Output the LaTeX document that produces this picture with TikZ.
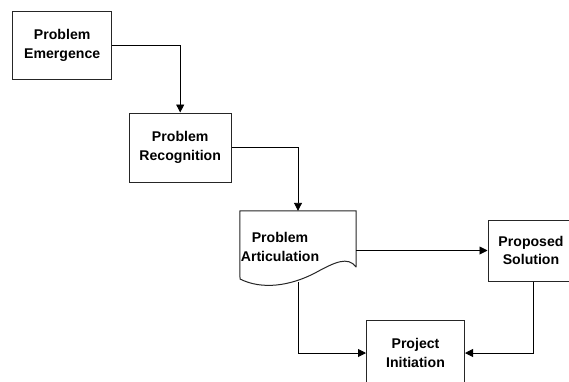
\documentclass[tikz,border=0pt]{standalone}
\usepackage{fontspec}
\setmainfont{Liberation Sans}
\usetikzlibrary{arrows.meta}

\tikzset{
  stagebox/.style={draw=black!85, line width=1pt, inner sep=0pt, align=center,
    font=\bfseries\fontsize{14.1}{18.5}\selectfont},
  stagetext/.style={inner sep=0pt, align=center,
    font=\bfseries\fontsize{14.1}{18.5}\selectfont},
  flow/.style={draw=black, line width=0.9pt, -{Triangle[length=8pt, width=8pt]}},
}

\begin{document}
\begin{tikzpicture}[x=1pt, y=-1pt]
  % canvas
  \path[fill=white, use as bounding box] (0,0) rectangle (569,381);

  % process stages
  \node[stagebox, minimum width=99.5pt, minimum height=67.5pt] (emerge) at (62.2,45.3)
    {Problem\\Emergence};
  \node[stagebox, minimum width=102pt, minimum height=69pt] (recog) at (180.2,147.5)
    {Problem\\Recognition};
  \node[stagebox, minimum width=86pt, minimum height=61pt] (prop) at (531,250.5)
    {Proposed\\Solution};
  \node[stagebox, minimum width=98pt, minimum height=66pt] (init) at (415.5,353)
    {Project\\Initiation};

  % document-shaped stage with a wavy lower edge
  \node[inner sep=0pt, minimum width=116pt, minimum height=71pt] (artic) at (298,246.5) {};
  \draw[draw=black!85, line width=1pt, line join=round]
    (artic.north west) -- (artic.north east) -- (356,267)
    .. controls (348,256) and (335,262) .. (315,273)
    .. controls (290,286) and (262,290) .. (240,279) -- cycle;
  \node[stagetext] (articlabel) at (280,247) {Problem\\Articulation};

  % connectors
  \draw[flow] (emerge.east) -| (recog.north);
  \draw[flow] (recog.east) -| (artic.north);
  \draw[flow] (artic.east |- prop.west) -- (prop.west);
  \draw[flow] (artic.south) |- (init.west);
  \draw[flow] ([xshift=2.4pt]prop.south) |- (init.east);
\end{tikzpicture}
\end{document}
